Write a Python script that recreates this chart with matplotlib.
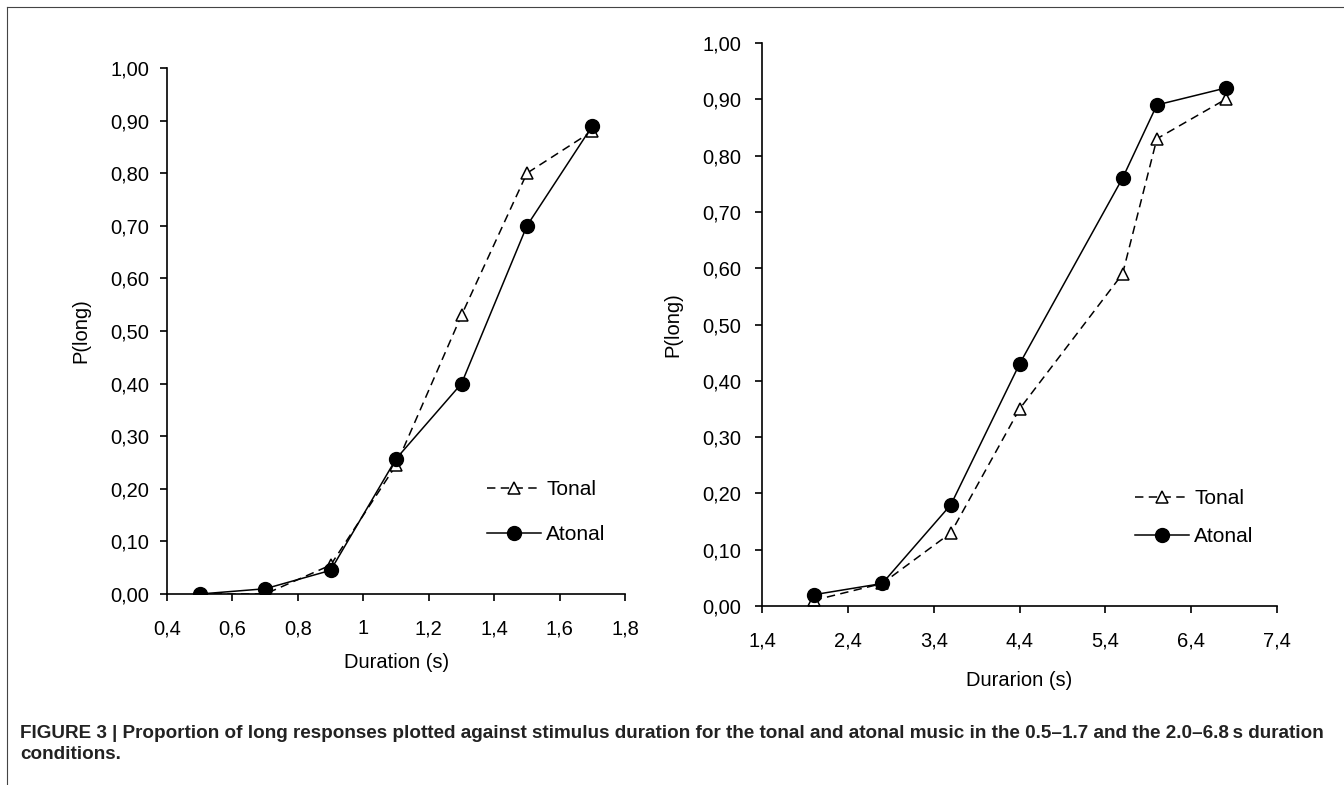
import numpy as np
import matplotlib
matplotlib.use("Agg")
import matplotlib.pyplot as plt
from matplotlib.lines import Line2D

plt.rcParams['font.family'] = ['Liberation Sans', 'DejaVu Sans']

# panel A: 0.5-1.7 s
dur_short = [0.5, 0.7, 0.9, 1.1, 1.3, 1.5, 1.7]
tonal_short = [0.00, 0.00, 0.055, 0.245, 0.53, 0.80, 0.88]
atonal_short = [0.00, 0.01, 0.045, 0.257, 0.40, 0.70, 0.89]

# panel B: 2.0-6.8 s
dur_long = [2.0, 2.8, 3.6, 4.4, 5.6, 6.0, 6.8]
tonal_long = [0.01, 0.04, 0.13, 0.35, 0.59, 0.83, 0.90]
atonal_long = [0.02, 0.04, 0.18, 0.43, 0.76, 0.89, 0.92]

yticks = [0.0, 0.1, 0.2, 0.3, 0.4, 0.5, 0.6, 0.7, 0.8, 0.9, 1.0]
xticks_short = [0.4, 0.6, 0.8, 1.0, 1.2, 1.4, 1.6, 1.8]
xticks_long = [1.4, 2.4, 3.4, 4.4, 5.4, 6.4, 7.4]

caption = ("FIGURE 3 | Proportion of long responses plotted against stimulus duration for the tonal "
           "and atonal music in the 0.5\u20131.7 and the 2.0\u20136.8\u2009s duration\nconditions.")


def komma(v, dec):
    s = f"{v:.{dec}f}".replace('.', ',')
    if dec == 1 and s.endswith(',0'):
        s = s[:-2]
    return s


def panel(ax, x, tonal, atonal, xticks, xlabel, leg_pos, ypad, xlpad, lspace):
    ax.plot(x, tonal, color='black', linestyle=(0, (5.5, 3.5)), linewidth=1.1,
            marker='^', markersize=8.5, markerfacecolor='white', markeredgecolor='black',
            markeredgewidth=1.1, label='Tonal', zorder=3)
    ax.plot(x, atonal, color='black', linestyle='-', linewidth=1.1,
            marker='o', markersize=10, markerfacecolor='black', label='Atonal', zorder=4)
    ax.set_xlim(xticks[0], xticks[-1])
    ax.set_ylim(0, 1.0)
    ax.set_xticks(xticks)
    ax.set_xticklabels([komma(v, 1) for v in xticks])
    ax.set_yticks(yticks)
    ax.set_yticklabels([komma(v, 2) for v in yticks])
    for s in ['top', 'right']:
        ax.spines[s].set_visible(False)
    ax.spines['left'].set_linewidth(1.2)
    ax.spines['bottom'].set_linewidth(1.2)
    ax.spines['bottom'].set_zorder(5)
    ax.tick_params(direction='out', length=5, width=1.2, labelsize=14.5)
    ax.tick_params(axis='x', pad=13)
    ax.tick_params(axis='y', pad=ypad)
    ax.set_xlabel(xlabel, fontsize=14.5, labelpad=xlpad)
    ax.set_ylabel("P(long)", fontsize=14.5, labelpad=14)
    ax.legend(loc='upper left', bbox_to_anchor=leg_pos, bbox_transform=fig.transFigure,
              frameon=False, fontsize=15, handlelength=2.6, handletextpad=0.25,
              labelspacing=lspace, borderpad=0, borderaxespad=0)


fig = plt.figure(figsize=(13.44, 7.85), dpi=100)

ax1 = fig.add_axes([0.1243, 0.2433, 0.3408, 0.6701])
panel(ax1, dur_short, tonal_short, atonal_short, xticks_short, "Duration (s)",
      (0.3624, 0.388), 8, 11, 1.25)

ax2 = fig.add_axes([0.5670, 0.2280, 0.3832, 0.7172])
panel(ax2, dur_long, tonal_long, atonal_long, xticks_long, "Durarion (s)",
      (0.8445, 0.377), 10, 15, 0.92)

# frame lines of the figure box
fig.add_artist(Line2D([0.0052, 1.0], [0.991, 0.991], transform=fig.transFigure, color='#444444', linewidth=0.8))
fig.add_artist(Line2D([0.0052, 0.0052], [0.0, 0.991], transform=fig.transFigure, color='#444444', linewidth=0.8))

fig.text(0.0149, 0.052, caption, ha='left', va='center', fontsize=13.6, fontweight='bold',
         color='#222222', linespacing=1.3)

fig.savefig("out.png", dpi=100)
